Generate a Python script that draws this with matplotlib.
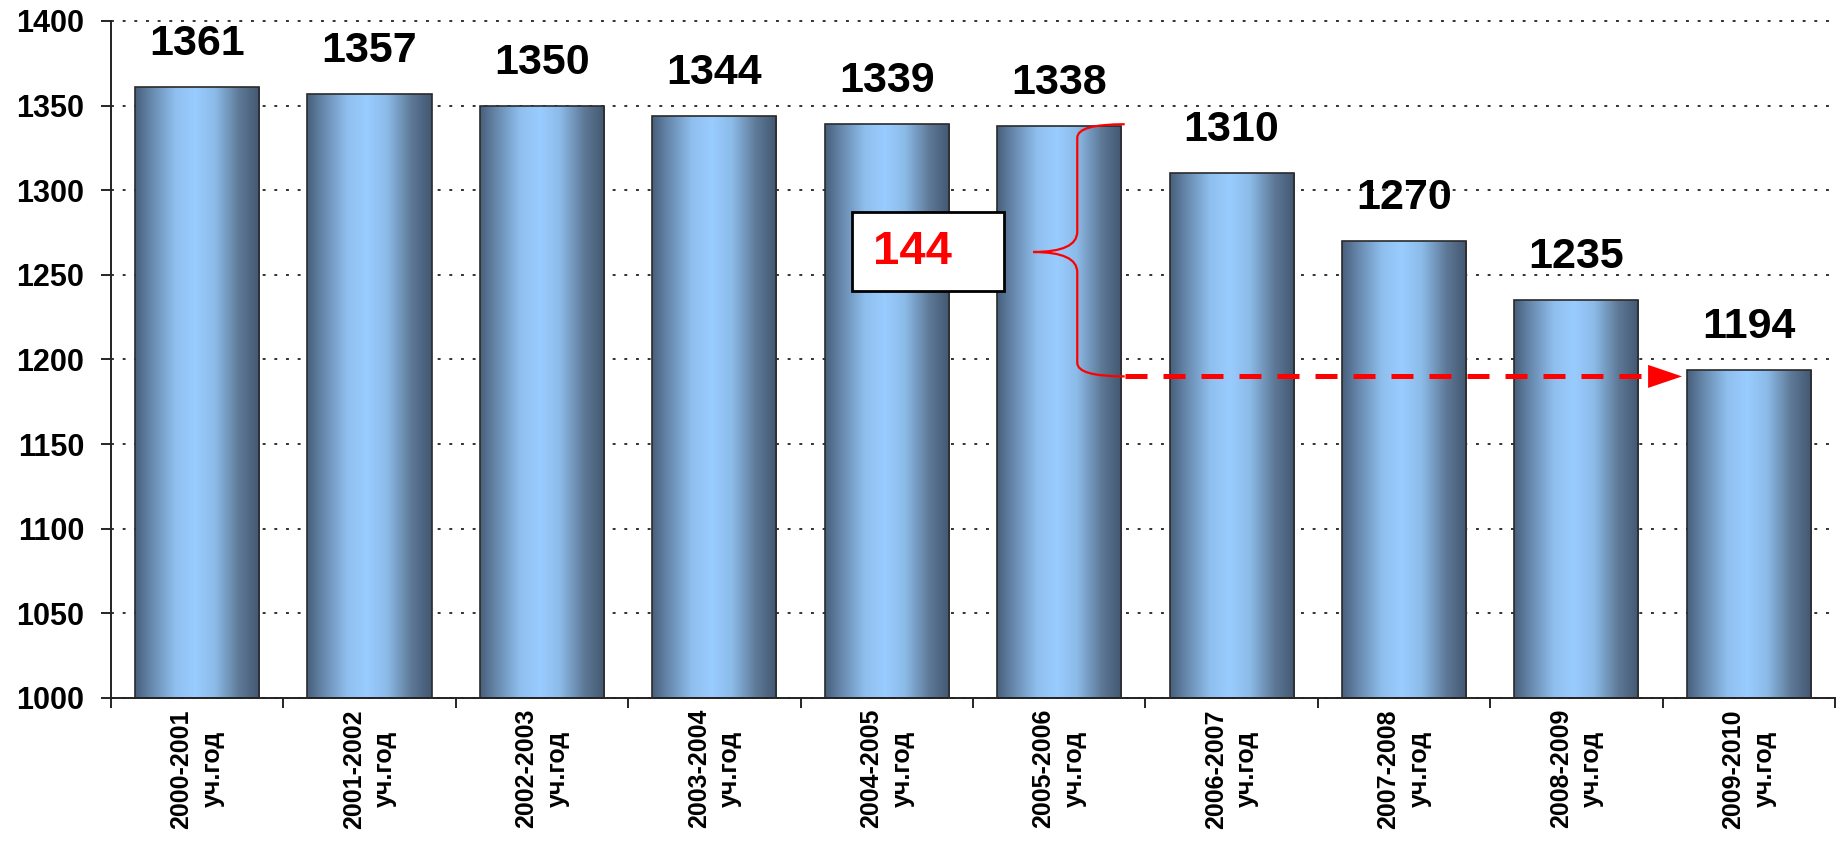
import matplotlib.pyplot as plt
import matplotlib.patches as patches
from matplotlib.path import Path
from matplotlib.colors import LinearSegmentedColormap
import numpy as np

# data
years = ['2000-2001', '2001-2002', '2002-2003', '2003-2004', '2004-2005',
         '2005-2006', '2006-2007', '2007-2008', '2008-2009', '2009-2010']
values = [1361, 1357, 1350, 1344, 1339, 1338, 1310, 1270, 1235, 1194]
labels = [f'{y}\nуч.год' for y in years]
drop = values[5] - values[9]  # 144

plt.rcParams['font.family'] = ['Liberation Sans', 'DejaVu Sans']
plt.rcParams['font.weight'] = 'bold'

fig = plt.figure(figsize=(18.37, 8.63), dpi=100, facecolor='white')
ax = fig.add_axes([0.0604, 0.1912, 0.9385, 0.7845])

x = np.arange(len(values))
w = 0.72
ymin, ymax = 1000, 1400

# cylinder-like horizontal gradient for the bars
cmap = LinearSegmentedColormap.from_list('cyl', [
    (0.00, '#475f7b'), (0.12, '#6585a9'), (0.32, '#8fbfee'),
    (0.48, '#99ccff'), (0.64, '#8cbbe8'), (0.84, '#5d7896'),
    (1.00, '#425770')])
grad = np.linspace(0, 1, 256).reshape(1, -1)

bars = ax.bar(x, values, width=w, facecolor='none', edgecolor='#2a2a2a',
              linewidth=1.2, zorder=3)
for b, xi, v in zip(bars, x, values):
    im = ax.imshow(grad, cmap=cmap, aspect='auto', zorder=2.5,
                   extent=(xi - w / 2, xi + w / 2, ymin, v),
                   interpolation='bicubic')
    im.set_clip_path(b)

# value labels
for xi, v in zip(x, values):
    ax.annotate(str(v), (xi, v), xytext=(0, 31), textcoords='offset points',
                ha='center', va='center', fontsize=31, fontweight='bold')

ax.set_xlim(-0.5, len(values) - 0.5)
ax.set_ylim(ymin, ymax)

# axes styling
ax.set_yticks(np.arange(ymin, ymax + 1, 50))
ax.tick_params(axis='y', direction='out', length=7.2, width=1.2, pad=12,
               labelsize=22)
ax.set_xticks(x)
ax.set_xticklabels(labels, rotation=90, fontsize=18, fontweight='bold',
                   linespacing=1.38, multialignment='center')
ax.set_xticks(np.arange(-0.5, len(values), 1), minor=True)
ax.tick_params(axis='x', which='major', length=0, pad=8)
ax.tick_params(axis='x', which='minor', direction='out', length=7.2, width=1.2)
for lab in ax.get_yticklabels():
    lab.set_fontweight('bold')

for s in ['top', 'right']:
    ax.spines[s].set_visible(False)
for s in ['left', 'bottom']:
    ax.spines[s].set_linewidth(1.4)
    ax.spines[s].set_color('#222222')

ax.set_axisbelow(True)
ax.yaxis.grid(True, linestyle=(0, (1.5, 4.5)), color='#333333', linewidth=1.4)
for gl in ax.get_ygridlines():
    gl.set_clip_on(False)

# annotation: box with the drop value
ax.add_patch(patches.Rectangle((3.80, 1240.5), 0.88, 46.5, facecolor='white',
                               edgecolor='black', linewidth=2, zorder=5))
ax.text(3.92, 1263.5, str(drop), ha='left', va='center', fontsize=34,
        fontweight='bold', color='red', zorder=6)

# curly brace from 2005-2006 level down to 2009-2010 level
y_top = values[5] + 1
y_bot = values[9] - 4
y_mid = (y_top + y_bot) / 2 - 1
x_end, x_sp, x_tip = 5.38, 5.105, 4.85
r = 8
verts = [(x_end, y_top), (x_sp, y_top), (x_sp, y_top - r),
         (x_sp, y_mid + 12),
         (x_sp, y_mid), (x_tip, y_mid),
         (x_tip, y_mid),
         (x_sp, y_mid), (x_sp, y_mid - 12),
         (x_sp, y_bot + r),
         (x_sp, y_bot), (x_end, y_bot)]
codes = [Path.MOVETO, Path.CURVE3, Path.CURVE3,
         Path.LINETO,
         Path.CURVE3, Path.CURVE3,
         Path.MOVETO,
         Path.CURVE3, Path.CURVE3,
         Path.LINETO,
         Path.CURVE3, Path.CURVE3]
ax.add_patch(patches.PathPatch(Path(verts, codes), facecolor='none',
                               edgecolor='red', linewidth=1.6, zorder=6))

# dashed arrow towards the last bar
head_base, head_tip = 8.416, 8.613
ax.plot([x_end, head_base], [y_bot, y_bot], color='red', linewidth=3.6,
        linestyle=(0, (4.4, 3.2)), dash_capstyle='butt', zorder=6)
ax.add_patch(patches.Polygon([(head_base, y_bot + 6.8), (head_tip, y_bot),
                              (head_base, y_bot - 6.8)], closed=True,
                             facecolor='red', edgecolor='none', zorder=6))

fig.savefig('out.png', dpi=100, facecolor='white')
